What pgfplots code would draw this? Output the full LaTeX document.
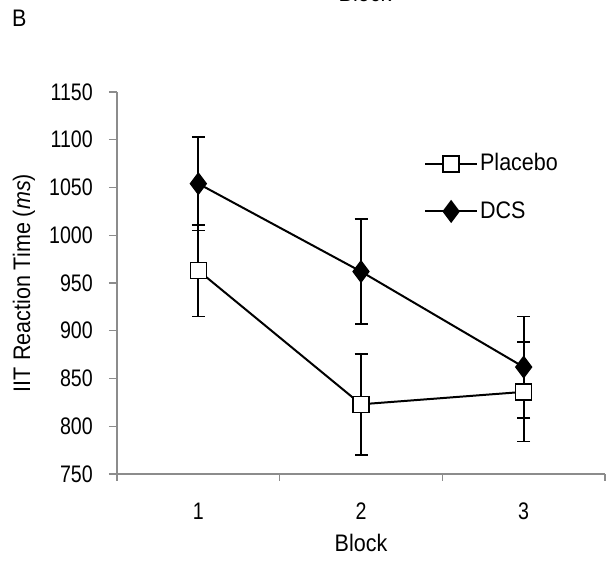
\documentclass[border=0pt]{standalone}
\usepackage{fontspec}
\setmainfont{Liberation Sans}[FakeStretch=0.9]
\newfontfamily\tickfont{Liberation Sans}[FakeStretch=0.82]
\usepackage{pgfplots}
\pgfplotsset{compat=1.18}
\newcommand{\myfont}{\fontsize{24}{28}\selectfont}
\newcommand{\mytickfont}{\tickfont\fontsize{24}{28}\selectfont}
\definecolor{axgray}{HTML}{8C8C8C}
\begin{document}
\myfont
\begin{tikzpicture}
\useasboundingbox (0,0) rectangle (610bp,561bp);
\node[anchor=west,font=\myfont,inner sep=0pt] at (12bp,543bp) {B};
\node[anchor=base,font=\myfont,inner sep=0pt] at (365bp,559bp) {Block};
\begin{axis}[
  at={(117bp,87bp)}, anchor=south west,
  scale only axis, width=488bp, height=382bp,
  xmin=0.5, xmax=3.5, ymin=750, ymax=1150,
  axis x line*=bottom, axis y line*=left,
  axis line style={draw=axgray, line width=1.2pt, -},
  xtick={1,2,3}, xticklabels={1,2,3},
  minor xtick={0.5,1.5,2.5,3.5},
  ytick={750,800,...,1150},
  tick align=outside,
  major tick length=8bp, minor tick length=7bp,
  x tick style={draw=none},
  minor x tick style={draw=axgray, line width=1.2pt},
  y tick style={draw=axgray, line width=1.2pt},
  /pgf/number format/assume math mode=true,
  /pgf/number format/1000 sep={},
  xticklabel style={font=\mytickfont, anchor=center, inner sep=0pt, yshift=-29bp},
  yticklabel style={font=\mytickfont, anchor=east, inner sep=0pt, xshift=-16bp},
  xlabel={Block},
  ylabel={IIT Reaction Time (\textit{ms})},
  xlabel style={font=\myfont, at={(rel axis cs:0.5,0)}, anchor=center, yshift=-69bp},
  ylabel style={font=\myfont, at={(axis description cs:-0.1906,0.5)}, anchor=center},
  legend cell align=left,
  legend style={draw=none, fill=none, font=\myfont, at={(rel axis cs:0.629,0.75)}, anchor=west, row sep=23bp, inner sep=0pt},
  legend image code/.code={\draw[mark repeat=2,mark phase=2,#1] plot coordinates {(0bp,0bp) (26bp,0bp) (52bp,0bp)};},
  clip=false,
]
\addplot[black, line width=2pt, mark=square*, mark options={fill=white, line width=1.5pt, mark size=8bp},
  error bars/.cd, y dir=both, y explicit, error mark options={rotate=90, mark size=6.5bp, line width=1.7pt},
  error bar style={line width=1.7pt}]
  coordinates {(1,963) +- (0,48) (2,823) +- (0,53) (3,836) +- (0,52)};
\addlegendentry{Placebo}
\addplot[black, line width=2pt, mark=diamond*, mark options={fill=black, mark size=10bp},
  error bars/.cd, y dir=both, y explicit, error mark options={rotate=90, mark size=6.5bp, line width=1.7pt},
  error bar style={line width=1.7pt}]
  coordinates {(1,1054) +- (0,49) (2,962) +- (0,55) (3,862) +- (0,53)};
\addlegendentry{DCS}
\end{axis}
\end{tikzpicture}
\end{document}
